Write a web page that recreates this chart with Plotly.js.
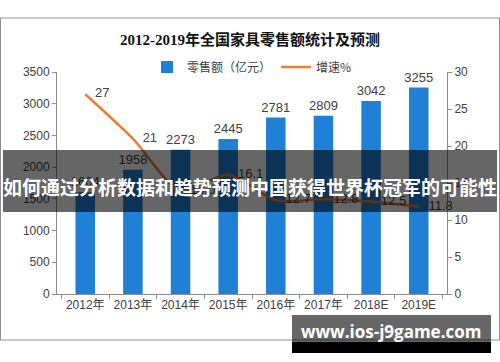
<!DOCTYPE html>
<html><head><meta charset="utf-8">
<script src="https://cdn.plot.ly/plotly-3.0.1.min.js"></script>
<style>html,body{margin:0;padding:0;background:#fff}#c{width:500px;height:362px}</style>
</head><body><div id="c"></div>
<script>
var years = ["2012年","2013年","2014年","2015年","2016年","2017年","2018E","2019E"];
var sales = [1604,1958,2273,2445,2781,2809,3042,3255];
var growth = [27,21,14.0,16.1,12.7,12.8,12.5,11.8];
var growthLabels = ["27","21","14.0","16.1","12.7","12.8","12.5","11.8"];

var PX0=57, PW=390, PY0=294, PH=222;
function px(x){return (x-PX0)/PW;}
function py(y){return (PY0-y)/PH;}

var txtFont = {family:"Liberation Sans, Arial, sans-serif", size:13, color:"#404040"};

var traces = [
  {type:"bar", x:years, y:sales, name:"零售额（亿元）", marker:{color:"#1f80d6"},
   width:0.41, text:sales.map(String), textposition:"outside", constraintext:"none", textfont:txtFont, cliponaxis:false, hoverinfo:"none"},
  {type:"scatter", mode:"lines+markers+text", x:years, y:growth, yaxis:"y2", name:"增速%",
   line:{color:"#ED7D31", width:2.5, shape:"spline", smoothing:0.8},
   marker:{size:14, color:"rgba(0,0,0,0)", line:{width:0}},
   text:growthLabels, textposition:"middle right", textfont:txtFont, cliponaxis:false, hoverinfo:"none"}
];

var layout = {
  width:500, height:362,
  margin:{l:PX0, r:500-PX0-PW, t:PY0-PH, b:362-PY0},
  paper_bgcolor:"#fff", plot_bgcolor:"rgba(0,0,0,0)",
  showlegend:true,
  title:{text:"2012-2019年全国家具零售额统计及预测", x:0.5, xanchor:"center", y:1-40/362, yanchor:"middle",
    font:{family:"Liberation Serif, Noto Sans CJK SC, serif", size:15, color:"#111", weight:"bold"}},
  legend:{orientation:"h", x:0.5, xanchor:"center", y:py(67), yanchor:"middle",
    font:{family:"Noto Sans CJK SC, sans-serif", size:12, color:"#404040"}, bgcolor:"rgba(0,0,0,0)", traceorder:"normal"},
  xaxis:{type:"category", showline:true, linecolor:"#8c8c8c", linewidth:1, ticks:"outside", tickson:"boundaries",
    ticklen:4, tickcolor:"#8c8c8c", showgrid:false, zeroline:false, tickangle:0,
    tickfont:{family:"Liberation Sans, Noto Sans CJK SC, sans-serif", size:12, color:"#404040"}},
  yaxis:{range:[0,3500], dtick:500, showline:true, linecolor:"#8c8c8c", ticks:"outside", ticklen:4, tickcolor:"#8c8c8c",
    showgrid:false, zeroline:false, tickfont:{family:"Liberation Sans, sans-serif", size:12, color:"#404040"}},
  yaxis2:{range:[0,30], dtick:5, overlaying:"y", side:"right", showline:true, linecolor:"#8c8c8c", ticks:"outside",
    ticklen:4, tickcolor:"#8c8c8c", showgrid:false, zeroline:false,
    tickfont:{family:"Liberation Sans, sans-serif", size:12, color:"#404040"}},
  shapes:[
    {type:"rect", xref:"paper", yref:"paper", x0:px(0.5), x1:px(499.5), y0:py(340), y1:py(18),
     line:{color:"#909090", width:1}, fillcolor:"rgba(0,0,0,0)", layer:"below"},
    {type:"rect", xref:"paper", yref:"paper", x0:px(3), x1:px(497), y0:py(212), y1:py(150),
     line:{width:0}, fillcolor:"rgba(0,0,0,0.6)", layer:"above"},
    {type:"rect", xref:"paper", yref:"paper", x0:px(292), x1:px(491), y0:py(342), y1:py(315),
     line:{width:0}, fillcolor:"rgba(0,0,0,0.6)", layer:"above"},
    {type:"rect", xref:"paper", yref:"paper", x0:px(292), x1:px(491), y0:py(353), y1:py(342),
     line:{width:0}, fillcolor:"#000", layer:"above"}
  ],
  annotations:[
    {text:"如何通过分析数据和趋势预测中国获得世界杯冠军的可能性", xref:"paper", yref:"paper", x:px(250), y:py(186),
     xanchor:"center", yanchor:"middle", showarrow:false,
     font:{family:"Noto Sans CJK SC, sans-serif", size:19, color:"#fff", weight:"bold"}},
    {text:"www.ios-j9game.com", xref:"paper", yref:"paper", x:px(391), y:py(331),
     xanchor:"center", yanchor:"middle", showarrow:false,
     font:{family:"Open Sans, DejaVu Sans, sans-serif", size:17, color:"#fff", weight:"bold"}}
  ]
};
Plotly.newPlot("c", traces, layout, {staticPlot:true, displayModeBar:false});
</script></body></html>
